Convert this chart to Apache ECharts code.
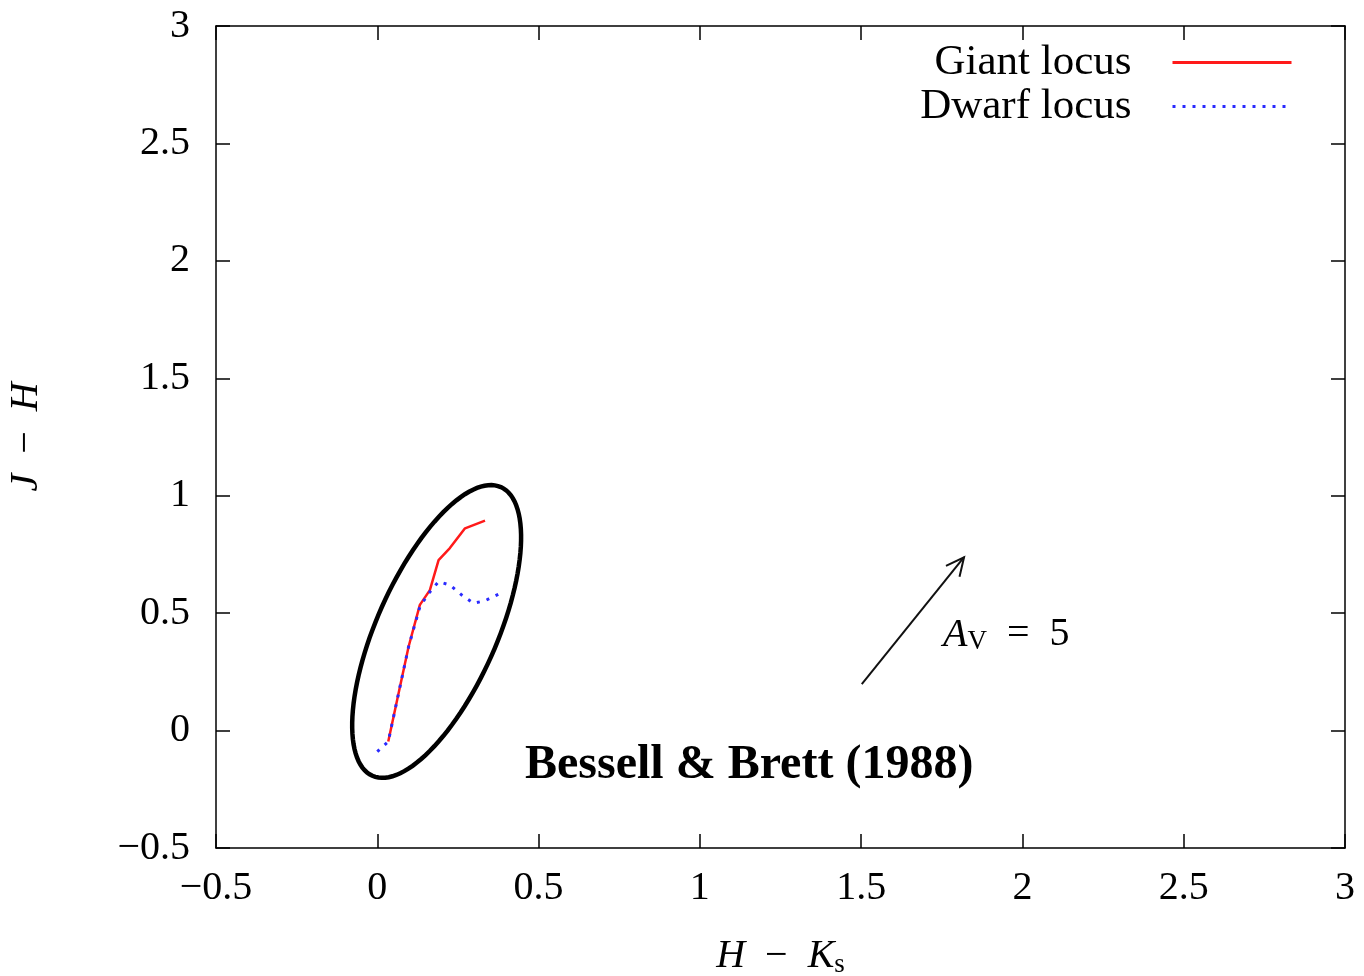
<!DOCTYPE html>
<html><head><meta charset="utf-8">
<script src="https://cdn.jsdelivr.net/npm/echarts@6/dist/echarts.min.js"></script>
<style>html,body{margin:0;padding:0;background:#fff}#c{width:1364px;height:976px}</style>
</head><body><div id="c"></div>
<script>
// ---- data ----
const giantX = [0.034, 0.066, 0.097, 0.132, 0.163, 0.190, 0.225, 0.272, 0.334];
const giantY = [-0.047, 0.159, 0.357, 0.535, 0.598, 0.726, 0.777, 0.861, 0.894];
const dwarfX = [0.000, 0.034, 0.066, 0.097, 0.132, 0.159, 0.190, 0.225, 0.262, 0.298, 0.334, 0.386];
const dwarfY = [-0.090, -0.047, 0.159, 0.357, 0.527, 0.584, 0.634, 0.620, 0.577, 0.542, 0.553, 0.587];
const seriesNames = ['Giant locus', 'Dwarf locus'];
const axisMin = -0.5, axisMax = 3, axisStep = 0.5;
const reddeningArrow = [1.502, 0.198, 1.819, 0.738]; // x0, y0, x1, y1
const arrowLabelAt = [1.754, 0.407];
const sourceLabelAt = [0.458, -0.151];
const ellipseCenter = [0.184, 0.422];

const SERIF = '"Liberation Serif", "DejaVu Serif", serif';
const fmt = v => String(v).replace('-', '\u2212');

function zip(a, b) { return a.map((v, i) => [v, b[i]]); }

const chart = echarts.init(document.getElementById('c'), null, {renderer: 'canvas'});

const axisCommon = {
  type: 'value', min: axisMin, max: axisMax, interval: axisStep,
  splitLine: {show: false},
  axisLine: {show: true, onZero: false, lineStyle: {color: '#000', width: 1.5}},
  axisTick: {show: true, inside: true, length: 14, lineStyle: {color: '#000', width: 1.5}},
};

const option = {
  animation: false,
  backgroundColor: '#fff',
  grid: {left: 216, right: 19, top: 26, bottom: 128, containLabel: false, outerBoundsMode: 'none'},
  legend: {
    data: seriesNames, orient: 'vertical', right: 66, top: 36, align: 'right',
    itemWidth: 119, itemHeight: 14, itemGap: 1,
    itemStyle: {opacity: 0},
    lineStyle: {width: 3},
    textStyle: {fontFamily: SERIF, fontSize: 43, color: '#000', lineHeight: 43, padding: [0, 36, 0, 0]}
  },
  xAxis: [
    Object.assign({}, axisCommon, {
      position: 'bottom',
      axisLabel: {formatter: fmt, fontFamily: SERIF, fontSize: 40, color: '#000', margin: 20},
      name: '{i|H}\u2002\u2212\u2002{i|K}{s|s}', nameLocation: 'middle', nameGap: 87,
      nameTextStyle: {fontFamily: SERIF, fontSize: 40, color: '#000',
        rich: {i: {fontFamily: SERIF, fontStyle: 'italic', fontSize: 40}, s: {fontFamily: SERIF, fontSize: 27, padding: [16, 0, 0, 0]}}}
    }),
    Object.assign({}, axisCommon, {position: 'top', axisLabel: {show: false}})
  ],
  yAxis: [
    Object.assign({}, axisCommon, {
      position: 'left',
      axisLabel: {formatter: fmt, fontFamily: SERIF, fontSize: 40, color: '#000', margin: 26},
      name: '{i|J}\u2002\u2212\u2002{i|H}', nameLocation: 'middle', nameGap: 170, nameRotate: 90,
      nameTextStyle: {fontFamily: SERIF, fontSize: 40, color: '#000',
        rich: {i: {fontFamily: SERIF, fontStyle: 'italic', fontSize: 40}}}
    }),
    Object.assign({}, axisCommon, {position: 'right', axisLabel: {show: false}})
  ],
  series: [
    {
      name: seriesNames[0], type: 'line', data: zip(giantX, giantY),
      showSymbol: false, symbol: 'none', color: '#ff1a1a',
      lineStyle: {color: '#ff1a1a', width: 2.5}, z: 4
    },
    {
      name: seriesNames[1], type: 'line', data: zip(dwarfX, dwarfY),
      showSymbol: false, symbol: 'none', color: '#2a2aff',
      lineStyle: {color: '#2a2aff', width: 3, type: [3, 7]}, z: 5
    },
    {
      name: 'ellipse', type: 'custom', clip: false, silent: true, z: 3,
      data: [ellipseCenter],
      renderItem: function (params, api) {
        const c = api.coord([api.value(0), api.value(1)]);
        const a = 158, b = 60, th = 66 * Math.PI / 180;
        const pts = [];
        for (let k = 0; k < 120; k++) {
          const t = k / 120 * 2 * Math.PI;
          const ex = a * Math.cos(t), ey = b * Math.sin(t);
          pts.push([c[0] + ex * Math.cos(th) - ey * Math.sin(th), c[1] - (ex * Math.sin(th) + ey * Math.cos(th))]);
        }
        return {type: 'polygon', shape: {points: pts}, style: {fill: 'none', stroke: '#000', lineWidth: 4.5}};
      }
    },
    {
      name: 'arrow', type: 'custom', clip: false, silent: true, z: 3,
      data: [reddeningArrow],
      encode: {x: [0, 2], y: [1, 3]},
      renderItem: function (params, api) {
        const p0 = api.coord([api.value(0), api.value(1)]);
        const p1 = api.coord([api.value(2), api.value(3)]);
        const ang = Math.atan2(p1[1] - p0[1], p1[0] - p0[0]);
        const L = 20, w = 0.45;
        const h1 = [p1[0] - L * Math.cos(ang - w), p1[1] - L * Math.sin(ang - w)];
        const h2 = [p1[0] - L * Math.cos(ang + w), p1[1] - L * Math.sin(ang + w)];
        const st = {stroke: '#111', lineWidth: 2, fill: 'none'};
        return {type: 'group', children: [
          {type: 'line', shape: {x1: p0[0], y1: p0[1], x2: p1[0], y2: p1[1]}, style: st},
          {type: 'polyline', shape: {points: [h1, p1, h2]}, style: st}
        ]};
      }
    },
    {
      name: 'labels', type: 'scatter', silent: true, symbolSize: 0,
      itemStyle: {opacity: 1, color: '#000'},
      data: [
        {value: arrowLabelAt, label: {show: true, position: 'right', distance: 0,
          formatter: '{i|A}{s|V}{n|\u2002=\u20025}',
          rich: {i: {fontFamily: SERIF, fontStyle: 'italic', fontSize: 40, color: '#000'},
                 s: {fontFamily: SERIF, fontSize: 27, color: '#000', padding: [14, 0, 0, 0]},
                 n: {fontFamily: SERIF, fontSize: 40, color: '#000'}}}},
        {value: sourceLabelAt, label: {show: true, position: 'right', distance: 0,
          formatter: 'Bessell & Brett (1988)',
          fontFamily: SERIF, fontWeight: 'bold', fontSize: 48, color: '#000'}}
      ]
    }
  ]
};
chart.setOption(option);
</script>
</body></html>
